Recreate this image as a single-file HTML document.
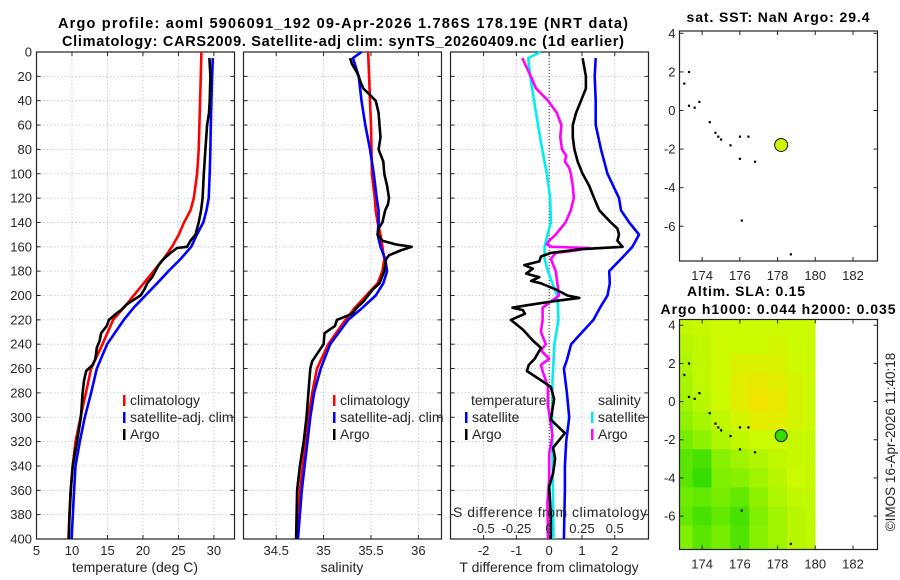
<!DOCTYPE html>
<html><head><meta charset="utf-8"><style>
html,body{margin:0;padding:0;background:#fff;}
svg{display:block;font-family:"Liberation Sans",sans-serif;}
</style></head><body>
<svg id="fig" width="900" height="580" viewBox="0 0 900 580" xmlns="http://www.w3.org/2000/svg">
<rect width="900" height="580" fill="#fff"/>
<text x="343" y="28" text-anchor="middle" font-weight="bold" font-size="14.5" textLength="570" fill="#000">Argo profile: aoml 5906091_192 09-Apr-2026 1.786S 178.19E (NRT data)</text>
<text x="343" y="46" text-anchor="middle" font-weight="bold" font-size="14.5" textLength="562" fill="#000">Climatology: CARS2009. Satellite-adj clim: synTS_20260409.nc (1d earlier)</text>
<g id="layer"></g>
</svg>
<script>
// ---------- profile data ----------
const climDepth = [0,20,40,60,80,100,120,130,140,150,160,170,180,190,200,210,220,240,260,280,300,320,340,360,380,400];
const climT = [28.24,28.15,28.05,27.95,27.86,27.63,27.16,26.7,25.8,25.05,24.1,22.9,21.5,20.1,18.7,17.3,15.8,14.3,12.7,11.96,11.2,10.5,10.1,9.8,9.65,9.5];
const climS = [35.47,35.48,35.49,35.50,35.505,35.51,35.54,35.55,35.57,35.6,35.62,35.64,35.62,35.57,35.45,35.33,35.23,35.05,34.93,34.88,34.84,34.81,34.78,34.75,34.735,34.72];
const satTDepth = [5,20,40,60,80,100,120,130,140,150,160,170,180,190,200,210,220,240,260,280,300,320,340,360,400];
const satT = [29.84,29.74,29.65,29.56,29.5,29.4,29.27,28.95,28.5,27.6,26.8,25.3,23.6,22.0,20.35,18.7,17.3,14.95,13.5,12.7,11.8,11.1,10.5,10.3,9.95];
const satSDepth = [0,5,20,40,60,80,100,120,130,140,150,160,170,180,190,200,210,220,240,260,280,300,320,340,360,400];
const satS = [35.40,35.31,35.37,35.40,35.44,35.49,35.53,35.56,35.58,35.58,35.57,35.6,35.65,35.67,35.63,35.55,35.41,35.26,35.07,34.97,34.9,34.86,34.83,34.8,34.77,34.73];
const argoTDepth = [5,20,40,50,60,80,100,120,130,140,150,155,160,161,165,170,175,180,185,190,195,200,205,208,212,215,220,225,231,237,243,252,257,262,270,280,300,320,340,360,380,400];
const argoT = [29.37,29.5,29.4,29.3,29.04,28.8,28.57,28.4,28.2,27.86,27.4,26.7,26.2,24.8,23.9,22.9,22.2,21.75,21.3,20.6,20.2,19.65,18.3,17.6,16.9,16.2,15.2,14.9,14.1,13.9,13.5,13.3,12.9,12.0,11.7,11.5,11.25,10.7,10.1,9.83,9.65,9.55];
const argoSDepth = [5,10,15,20,25,30,40,50,60,70,80,90,100,110,120,125,130,140,145,150,155,158,160,163,167,170,180,190,195,200,205,210,215,220,225,231,240,254,260,280,300,320,340,360,380,400];
const argoS = [35.28,35.3,35.34,35.37,35.39,35.42,35.55,35.58,35.59,35.6,35.58,35.63,35.64,35.67,35.69,35.68,35.65,35.62,35.58,35.57,35.62,35.76,35.93,35.81,35.69,35.66,35.64,35.59,35.52,35.47,35.42,35.35,35.3,35.14,35.12,35.01,35.0,34.88,34.86,34.84,34.82,34.79,34.75,34.72,34.715,34.71];
const satTdiffDepth = [5,20,40,60,80,100,120,130,140,150,160,170,180,190,200,210,220,240,253,260,280,300,320,340,360,400];
const satTdiff = [1.42,1.39,1.42,1.42,1.58,1.78,2.13,2.19,2.44,2.74,2.54,2.19,1.83,1.85,1.78,1.55,1.35,0.67,0.54,0.45,0.54,0.61,0.52,0.48,0.48,0.45];
const argoTdiffDepth = [5,20,30,40,50,60,70,80,90,100,110,120,130,140,145,150,155,160,162,165,168,172,175,178,182,185,188,190,195,200,202,205,208,210,212,215,220,228,237,243,252,257,262,275,285,302,313,325,334,346,357,380,400];
const argoTdiff = [1.02,1.12,1.12,0.97,0.82,0.72,0.72,0.77,0.87,1.02,1.22,1.37,1.53,1.88,2.08,2.13,2.08,2.24,0.97,0.05,-0.25,-0.3,-0.76,-0.5,-0.7,-0.3,-0.55,-0.25,0.2,0.56,0.92,0.05,-0.66,-1.12,-0.8,-0.74,-1.17,-0.8,-0.5,-0.25,-0.44,-0.62,-0.68,0.05,0.15,0.05,0.48,0.12,0.18,0.12,0.0,0.05,0.05];
const satSdiffDepth = [0,5,20,40,60,80,100,120,140,150,160,170,180,190,200,210,220,240,270,300,330,370,400];
const satSdiff = [-0.068,-0.16,-0.145,-0.115,-0.085,-0.053,-0.018,0.008,0.013,-0.013,-0.035,-0.035,-0.01,0.025,0.06,0.068,0.07,0.04,0.025,0.023,0.025,0.03,0.033];
const argoSdiffDepth = [5,20,30,40,50,60,70,80,85,90,95,100,110,120,130,140,150,155,158,160,161,163,165,170,180,190,200,205,210,220,230,240,245,252,257,262,275,290,315,330,350,370,400];
const argoSdiff = [-0.205,-0.14,-0.1,-0.008,0.058,0.093,0.085,0.098,0.13,0.12,0.153,0.165,0.18,0.188,0.165,0.125,0.05,0,-0.018,0.02,0.305,0.2,0.05,0.013,0.05,0.063,0.075,0.013,-0.05,-0.05,-0.063,-0.025,-0.063,0,-0.063,-0.05,-0.01,-0.01,0.025,0,0,-0.013,-0.01];
const depthTicks = [0,20,40,60,80,100,120,140,160,180,200,220,240,260,280,300,320,340,360,380,400];
const tempTicks = [5,10,15,20,25,30];
const salTicks = [34.5,35,35.5,36];
const tdiffTicks = [-2,-1,0,1,2];
const sdiffLabels = ["-0.5","-0.25","0","0.25","0.5"];
const sdiffValues = [-0.5,-0.25,0,0.25,0.5];
// ---------- map data ----------
const lonTicks = [174,176,178,180,182];
const latTicks = [4,2,0,-2,-4,-6];
const floatLon = 178.19, floatLat = -1.786;
const islandLon = [173.3,173.05,173.3,173.6,173.85,174.4,174.7,174.85,175.0,175.5,176.0,176.45,176.0,176.8,176.1,178.7];
const islandLat = [2.0,1.4,0.25,0.15,0.45,-0.6,-1.15,-1.35,-1.5,-1.8,-1.35,-1.35,-2.5,-2.65,-5.7,-7.45];
const slaLonEdges = [172.7,173.5,174.5,175.5,176.5,177.5,178.5,179.5,180];
const slaLatEdges = [4.3,3.5,2.5,1.5,0.5,-0.5,-1.5,-2.5,-3.5,-4.5,-5.5,-6.5,-7.8];
const slaGrid = [
 [0.9,0.95,1,1,1,1,1,1],
 [0.85,0.9,1,1,1,1.05,1,1],
 [0.8,0.9,1,1.1,1.1,1.1,1,1],
 [0.75,0.9,1,1.15,1.2,1.15,1.05,1],
 [0.7,0.85,1,1.15,1.25,1.2,1.05,1],
 [0.6,0.75,0.9,1.05,1.15,1.15,1.05,1],
 [0.45,0.6,0.8,0.9,1.0,1.0,0.95,0.95],
 [0.3,0.2,0.55,0.7,0.8,0.9,0.95,0.95],
 [0.3,0.1,0.5,0.55,0.7,0.85,1.0,0.95],
 [0.4,0.35,0.45,0.35,0.6,0.8,0.9,0.9],
 [0.35,0.2,0.35,0.2,0.5,0.7,0.85,0.9],
 [0.5,0.3,0.45,0.25,0.55,0.7,0.85,0.9]
];

const NS = "http://www.w3.org/2000/svg";
const layer = document.getElementById("layer");
function mk(tag, attrs, parent){ const e=document.createElementNS(NS,tag); for(const k in attrs) e.setAttribute(k,attrs[k]); (parent||layer).appendChild(e); return e; }
function txt(s, attrs, parent){ const e=mk("text",attrs,parent); e.textContent=s; return e; }

const Y0=52, Y1=539;
const yD = d => Y0 + d/400*(Y1-Y0);
const panels = [
  {name:"temperature", x0:36.5, x1:234.5, d0:5, d1:32.9},
  {name:"salinity", x0:243.5, x1:441.5, d0:34.155, d1:36.244},
  {name:"difference", x0:450.5, x1:648.5, d0:-3.01, d1:3.03}
];
function sx(p, v){ return p.x0 + (v-p.d0)/(p.d1-p.d0)*(p.x1-p.x0); }
const GRID="#b9c2de", TC="#262626";

panels.forEach((p,i)=>{
  const g = mk("g",{});
  
  
  const xt = i===0?tempTicks:(i===1?salTicks:tdiffTicks);
  depthTicks.forEach(d=>{
    if(d>0 && d<400) mk("line",{x1:p.x0,x2:p.x1,y1:yD(d),y2:yD(d),stroke:GRID,"stroke-width":0.8,"stroke-dasharray":"1.5,2"},g);
    mk("line",{x1:p.x0,x2:p.x0+4,y1:yD(d),y2:yD(d),stroke:TC,"stroke-width":1},g);
    mk("line",{x1:p.x1,x2:p.x1-4,y1:yD(d),y2:yD(d),stroke:TC,"stroke-width":1},g);
  });
  xt.forEach(v=>{
    const x=sx(p,v);
    if(x>p.x0+1 && x<p.x1-1) mk("line",{x1:x,x2:x,y1:Y0,y2:Y1,stroke:GRID,"stroke-width":0.8,"stroke-dasharray":"1.5,2"},g);
    mk("line",{x1:x,x2:x,y1:Y1,y2:Y1-4,stroke:TC,"stroke-width":1},g);
    mk("line",{x1:x,x2:x,y1:Y0,y2:Y0+4,stroke:TC,"stroke-width":1},g);
    const t=txt(String(v),{x:x,y:555,"text-anchor":"middle","font-size":13,fill:TC},g);
    
    
  });
  mk("rect",{x:p.x0,y:Y0,width:p.x1-p.x0,height:Y1-Y0,fill:"none",stroke:"#222","stroke-width":1.2},g);
});
// y tick labels
depthTicks.forEach(d=>{
  const t=txt(String(d),{x:32,y:yD(d)+4.5,"text-anchor":"end","font-size":13,fill:TC});
  
  
});
// x titles
[["temperature (deg C)",135,"temperature-axis-title"],["salinity",342,"salinity-axis-title"],["T difference from climatology",549,"t-difference-axis-title"]].forEach(a=>{
  const t=txt(a[0],{x:a[1],y:572,"text-anchor":"middle","font-size":14,fill:TC});
  
  
});

function series(p, depths, vals, color, name, scale){
  const pts = depths.map((d,k)=> sx(p, vals[k]*(scale||1)).toFixed(1)+","+yD(d).toFixed(1)).join(" ");
  const e = mk("polyline",{points:pts,fill:"none",stroke:color,"stroke-width":2.6,"stroke-linejoin":"round"});
  
  
}
const [P1,P2,P3] = panels;
series(P1, climDepth, climT, "#ff0000", "climatology-temperature-line");
series(P1, satTDepth, satT, "#0000ff", "satellite-temperature-line");
series(P1, argoTDepth, argoT, "#000000", "argo-temperature-line");
series(P2, climDepth, climS, "#ff0000", "climatology-salinity-line");
series(P2, satSDepth, satS, "#0000ff", "satellite-salinity-line");
series(P2, argoSDepth, argoS, "#000000", "argo-salinity-line");
// zero line
const z = mk("line",{x1:sx(P3,0),x2:sx(P3,0),y1:Y0,y2:Y1,stroke:"#333","stroke-width":1,"stroke-dasharray":"1,2"});


series(P3, satSdiffDepth, satSdiff, "#00eeee", "satellite-salinity-diff-line", 4);
series(P3, argoSdiffDepth, argoSdiff, "#ff00ff", "argo-salinity-diff-line", 4);
series(P3, argoTdiffDepth, argoTdiff, "#000000", "argo-temperature-diff-line");
series(P3, satTdiffDepth, satTdiff, "#0000ff", "satellite-temperature-diff-line");

// S diff labels
const sdt = txt("S difference from climatology",{x:550,y:517,"text-anchor":"middle","font-size":14,fill:TC,textLength:194});


sdiffValues.forEach((v,k)=>{
  const t=txt(sdiffLabels[k],{x:sx(P3,v*4),y:533,"text-anchor":"middle","font-size":13,fill:TC});
  
  
});

// legends
function legend(x, y, color, label, name){
  const g=mk("g",{});
  
  
  if(color) mk("rect",{x:x-7,y:y-10,width:2.5,height:11,fill:color},g);
  txt(label,{x:x,y:y,"font-size":14,fill:TC},g);
}
legend(130,405,"#ff0000","climatology","legend-climatology");
legend(130,422,"#0000ff","satellite-adj. clim","legend-satellite-adj");
legend(130,439,"#000000","Argo","legend-argo");
legend(340,405,"#ff0000","climatology","legend-climatology-salinity");
legend(340,422,"#0000ff","satellite-adj. clim","legend-satellite-adj-salinity");
legend(340,439,"#000000","Argo","legend-argo-salinity");
legend(471,405,null,"temperature","legend-temperature-header");
legend(472,422,"#0000ff","satellite","legend-temperature-satellite");
legend(472,439,"#000000","Argo","legend-temperature-argo");
legend(598,405,null,"salinity","legend-salinity-header");
legend(598,422,"#00eeee","satellite","legend-salinity-satellite");
legend(598,439,"#ff00ff","Argo","legend-salinity-argo");

// ---------- maps ----------
function slaColor(v){
  const st=[[0,[34,216,0]],[0.5,[128,240,0]],[0.9,[192,248,0]],[1.0,[204,250,0]],[1.25,[240,228,0]]];
  v=Math.max(0,Math.min(1.25,v));
  for(let i=0;i<st.length-1;i++){ if(v<=st[i+1][0]){ const t=(v-st[i][0])/(st[i+1][0]-st[i][0]); const c=st[i][1].map((a,j)=>Math.round(a+(st[i+1][1][j]-a)*t)); return "rgb("+c.join(",")+")"; } }
  return "rgb(240,228,0)";
}
function makeMap(m){
  const lx = lon => m.x0 + (lon-m.lon0)/(m.lon1-m.lon0)*(m.x1-m.x0);
  const ly = lat => m.y0 + (m.lat0-lat)/(m.lat0-m.lat1)*(m.y1-m.y0);
  const g = mk("g",{});
  
  
  if(m.sla){
    slaGrid.forEach((row,r)=>row.forEach((v,c)=>{
      const x0=Math.max(m.x0,lx(slaLonEdges[c])), x1=lx(slaLonEdges[c+1]);
      const y0=Math.max(m.y0,ly(slaLatEdges[r])), y1=Math.min(m.y1,ly(slaLatEdges[r+1]));
      const cell=mk("rect",{x:x0,y:y0,width:x1-x0+0.3,height:y1-y0+0.3,fill:slaColor(v)},g);
      
      
    }));
  }
  islandLon.forEach((lo,k)=>{
    const d=mk("rect",{x:lx(lo)-1,y:ly(islandLat[k])-1,width:2.2,height:2.2,fill:"#000"},g);
    
    
  });
  const f=mk("circle",{cx:lx(floatLon),cy:ly(floatLat),r:m.sla?6:6.5,fill:m.sla?"#33dd00":"#ccf500",stroke:"#111","stroke-width":1},g);
  
  
  lonTicks.forEach(lo=>{
    const x=lx(lo);
    mk("line",{x1:x,x2:x,y1:m.y1,y2:m.y1-4,stroke:TC},g);
    mk("line",{x1:x,x2:x,y1:m.y0,y2:m.y0+4,stroke:TC},g);
    const t=txt(String(lo),{x:x,y:m.y1+19,"text-anchor":"middle","font-size":13,fill:TC},g);
    
    
  });
  latTicks.forEach(la=>{
    const y=ly(la);
    mk("line",{x1:m.x0,x2:m.x0+4,y1:y,y2:y,stroke:TC},g);
    mk("line",{x1:m.x1,x2:m.x1-4,y1:y,y2:y,stroke:TC},g);
    const t=txt(String(la),{x:m.x0-4,y:y+4.5,"text-anchor":"end","font-size":13,fill:TC},g);
    
    
  });
  mk("rect",{x:m.x0,y:m.y0,width:m.x1-m.x0,height:m.y1-m.y0,fill:"none",stroke:"#222","stroke-width":1.2},g);
}
makeMap({name:"sst-map",x0:679.5,x1:877.5,y0:31,y1:261,lon0:172.8,lon1:183.3,lat0:4.12,lat1:-7.8,sla:false});
makeMap({name:"sla-map",x0:679.5,x1:877.5,y0:319.5,y1:549.5,lon0:172.8,lon1:183.3,lat0:4.3,lat1:-7.75,sla:true});
[["sat. SST: NaN Argo: 29.4",778,22,183,"sst-map-title"],["Altim. SLA: 0.15",746,296,118,"sla-map-title"],["Argo h1000: 0.044 h2000: 0.035",778,314,235,"argo-height-title"]].forEach(a=>{
  const t=txt(a[0],{x:a[1],y:a[2],"text-anchor":"middle","font-size":14,"font-weight":"bold",fill:"#000",textLength:a[3]});
  
  
});
const cp=txt("©IMOS 16-Apr-2026 11:40:18",{x:0,y:0,"text-anchor":"middle","font-size":13.5,fill:TC,transform:"translate(895,442) rotate(-90)"});


</script>
</body></html>
